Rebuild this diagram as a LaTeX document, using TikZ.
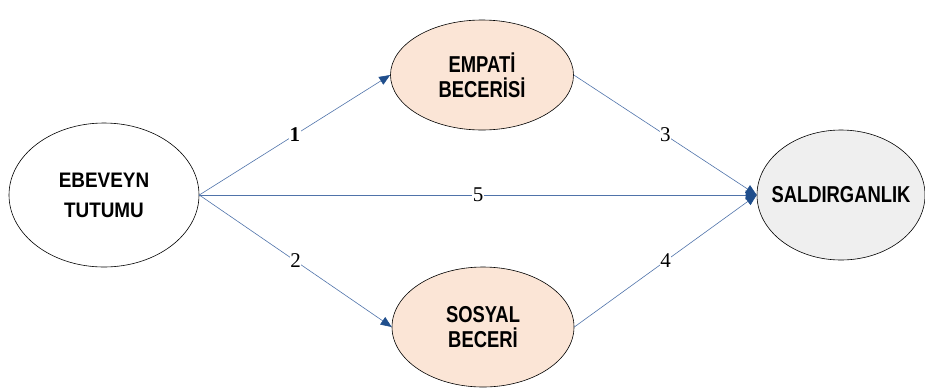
\documentclass[tikz,border=0pt]{standalone}
\usepackage{fontspec}
\setmainfont{Liberation Sans}
\newfontfamily\narrowfont[FakeStretch=0.9]{Liberation Sans}
\newfontfamily\condfont[FakeStretch=0.8]{Liberation Sans}
\newfontfamily\numfont{Liberation Serif}
\usetikzlibrary{shapes.geometric,arrows.meta}
\definecolor{linkblue}{HTML}{4F73AA}
\definecolor{tipblue}{HTML}{1F4E8C}
\definecolor{peach}{HTML}{FBE5D6}
\definecolor{lightgrey}{HTML}{EFEFEF}
\tikzset{
    var/.style={ellipse, draw, line width=0.6pt, inner sep=0pt, align=center,
        font=\condfont\bfseries\fontsize{23}{25}\selectfont},
    link/.style={draw=linkblue, line width=0.6pt, -{Triangle[length=11pt,width=9pt,color=tipblue]}},
    num/.style={font=\numfont\fontsize{21}{21}\selectfont, fill=white, inner sep=0.5pt}
}
\begin{document}
\begin{tikzpicture}[x=1pt,y=-1pt]
            \useasboundingbox (0,0) rectangle (925,389);
            \node[var, font=\narrowfont\bfseries\fontsize{21}{30}\selectfont, minimum width=190, minimum height=144] (ebeveyn) at (104,195) {EBEVEYN\\TUTUMU};
            \node[var, fill=peach, minimum width=183, minimum height=110] (empati) at (482,75) {EMPATİ\\BECERİSİ};
            \node[var, fill=peach, minimum width=182, minimum height=120] (sosyal) at (483,327) {SOSYAL\\BECERİ};
            \node[var, fill=lightgrey, inner xsep=-30pt, minimum width=168, minimum height=130] (saldirgan) at (841,195) {SALDIRGANLIK};

            \draw[link] (ebeveyn.east) -- node[num, font=\numfont\bfseries\fontsize{21}{21}\selectfont]{1} (empati.west);
            \draw[link] (ebeveyn.east) -- node[num, below=-8pt]{2} (sosyal.west);
            \draw[link] (ebeveyn.east) -- node[num]{5} (saldirgan.west);
            \draw[link] (empati.east) -- node[num]{3} (saldirgan.west);
            \draw[link] (sosyal.east) -- node[num]{4} (saldirgan.west);
\end{tikzpicture}
\end{document}
